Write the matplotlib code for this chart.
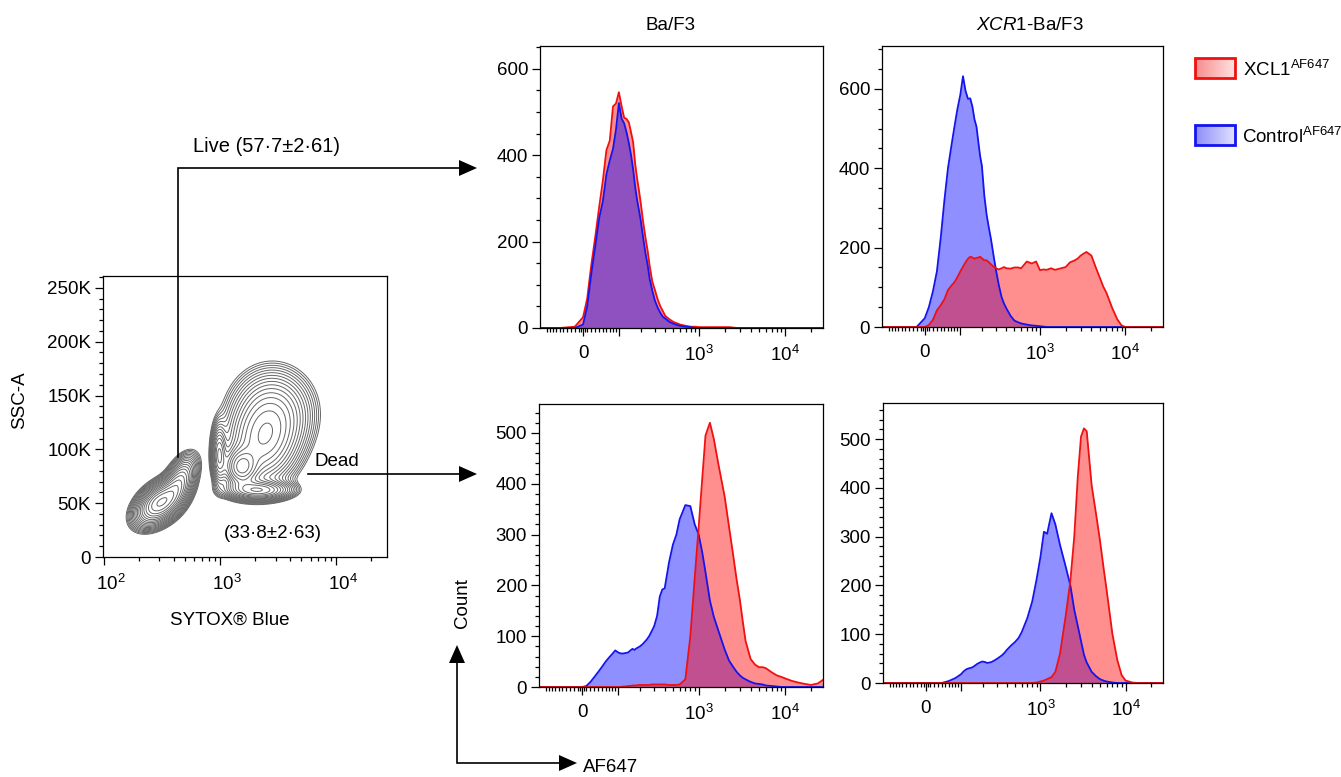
import numpy as np
import matplotlib
matplotlib.use("Agg")
import matplotlib.pyplot as plt
from matplotlib.patches import Rectangle, Polygon
from matplotlib.colors import LinearSegmentedColormap
import matplotlib.transforms as mtransforms

plt.rcParams['font.family'] = ['Liberation Sans', 'DejaVu Sans']
plt.rcParams['mathtext.fontset'] = 'custom'
plt.rcParams['mathtext.rm'] = 'Liberation Sans'
plt.rcParams['mathtext.it'] = 'Liberation Sans:italic'
plt.rcParams['mathtext.bf'] = 'Liberation Sans:bold'

# ---------------- data ----------------
# AF647 fluorescence grid (shared by all histograms)
af647 = [-120, -60, -20, 0, 10, 20, 30, 40, 50, 60, 70, 80, 90, 100, 110, 120, 130,
         140, 150, 160, 170, 180, 190, 200, 215, 230, 245, 260, 280, 300, 325, 350,
         375, 400, 450, 500, 550, 600, 700, 800, 900, 1000, 1100, 1200, 1350, 1500,
         1700, 2000, 2250, 2500, 2750, 3000, 3250, 3500, 4000, 4500, 5000, 5500,
         6000, 7000, 8000, 9000, 10000, 12000, 14000, 17000, 20000, 24000, 28000]

# Live cells, Ba/F3
live_baf3_control = [0, 0, 0, 8, 50, 125, 189, 254, 294, 356, 388, 415, 460, 521, 485,
                     474, 453, 428, 400, 367, 327, 297, 274, 251, 210, 174, 146, 113, 86,
                     64, 47, 35, 26, 22, 14, 10, 7, 5, 3, 2, 0] + [0] * 28
live_baf3_xcl1 = [0, 0, 3, 25, 68, 146, 212, 280, 342, 412, 434, 513, 520, 546, 514,
                  487, 484, 476, 453, 430, 381, 347, 320, 292, 247, 210, 179, 143, 107,
                  89, 66, 50, 39, 28, 20, 14, 11, 8, 5, 3, 3, 2, 2, 2, 2, 2, 2, 2, 2,
                  1, 0] + [0] * 18
# Live cells, XCR1-Ba/F3
live_xcr1_control = [0, 0, 0, 22, 50, 90, 140, 225, 320, 400, 455, 505, 550, 585, 632,
                     595, 575, 576, 555, 523, 505, 466, 430, 406, 330, 282, 250, 222, 180,
                     143, 105, 76, 59, 47, 28, 16, 12, 9, 6, 4, 3, 2, 1, 0] + [0] * 25
live_xcr1_xcl1 = [0, 0, 0, 0, 5, 18, 42, 55, 70, 93, 104, 113, 126, 140, 152, 163, 172,
                  177, 175, 172, 174, 175, 177, 173, 168, 168, 163, 158, 152, 148, 145,
                  148, 151, 148, 147, 150, 150, 148, 165, 160, 165, 143, 145, 144, 148,
                  144, 147, 151, 163, 167, 172, 180, 185, 189, 180, 150, 125, 102, 86,
                  48, 20, 4, 0] + [0] * 6
# Dead cells, Ba/F3
dead_baf3_control = [0, 0, 0, 0, 2, 10, 20, 30, 40, 50, 58, 65, 72, 68, 66, 66, 67, 68,
                     72, 75, 73, 76, 78, 80, 84, 89, 94, 100, 110, 120, 140, 178, 192,
                     194, 245, 280, 300, 330, 358, 356, 320, 300, 265, 226, 170, 138,
                     110, 74, 52, 40, 30, 23, 18, 15, 10, 7, 6, 5, 3, 2, 1, 0, 0] + [0] * 6
dead_baf3_xcl1 = [0] * 15 + [1, 1, 2, 2, 3, 3, 3, 4, 4, 4, 4, 4, 4, 5, 5, 5, 5, 5, 5, 4,
                             4, 4, 5, 15, 100, 215, 315, 410, 495, 520, 488, 437, 375,
                             315, 262, 212, 172, 128, 90, 55, 44, 39, 39, 37, 29, 23, 20,
                             17, 12, 9, 6, 4, 7, 15]
# Dead cells, XCR1-Ba/F3
dead_xcr1_control = [0, 0, 0, 0, 0, 0, 0, 0, 2, 4, 7, 10, 14, 18, 24, 28, 30, 31, 33, 36,
                     39, 41, 43, 44, 43, 41, 42, 43, 46, 49, 53, 57, 62, 68, 77, 84, 92,
                     104, 133, 167, 212, 258, 310, 306, 348, 325, 283, 236, 200, 150, 117,
                     86, 58, 42, 23, 14, 8, 5, 3, 1, 0, 0, 0] + [0] * 6
dead_xcr1_xcl1 = [0] * 40 + [1, 3, 5, 8, 12, 23, 60, 142, 210, 300, 423, 505, 522, 516,
                             405, 347, 293, 238, 190, 101, 47, 16, 5, 1, 0, 0, 0, 0, 0]

# Contour plot populations (log10 SYTOX Blue, SSC-A in thousands)
pop_log_sytox = [2.48, 2.65, 3.36, 2.99, 3.33, 3.18, 3.45]
pop_ssc_k = [50, 70, 105, 95, 62, 83, 135]
pop_sd_log = [0.11, 0.08, 0.17, 0.035, 0.15, 0.08, 0.19]
pop_sd_ssc = [11, 13, 22, 15, 5, 10, 22]
pop_rho = [0.45, 0.5, 0.1, 0.0, 0.0, 0.0, 0.0]
pop_weight = [1.0, 0.45, 0.45, 0.35, 0.5, 0.6, 0.3]

ssc_ticks = [0, 50000, 100000, 150000, 200000, 250000]
ssc_labels = ['0', '50K', '100K', '150K', '200K', '250K']

# ---------------- figure ----------------
W, H = 1341, 777
fig = plt.figure(figsize=(W / 100, H / 100), dpi=100)


def rect(x0, y0, x1, y1):
    return [x0 / W, 1 - y1 / H, (x1 - x0) / W, (y1 - y0) / H]


FS = 13.5
RED_L, BLUE_L = '#f01010', '#1414f0'


def fwd(x):
    return np.arcsinh(np.asarray(x, dtype=float) / 90.0)


def inv(y):
    return 90.0 * np.sinh(np.asarray(y, dtype=float))


xminor = ([-v for v in range(10, 101, 10)] + [-5, 5] + list(range(10, 100, 10)) +
          list(range(200, 1000, 100)) + list(range(2000, 10000, 1000)) + [20000])


def hist_panel(r, ctrl, xcl, ytop, ymaj, ymin_step, blue_on_top):
    ax = fig.add_axes(r)
    ax.set_xscale('function', functions=(fwd, inv))
    ax.set_xlim(-128, 27500)
    ax.set_ylim(0, ytop)
    layers = [(xcl, (1, 0, 0), RED_L), (ctrl, (0, 0, 1), BLUE_L)]
    if not blue_on_top:
        layers = layers[::-1]
    for counts, fc, lc in layers:
        ax.fill_between(af647, counts, 0, color=fc, alpha=0.44, lw=0)
        ax.plot(af647, counts, color=lc, lw=1.3)
    ax.set_xticks([0, 100, 1000, 10000])
    ax.set_xticklabels(['0', '', '$10^3$', '$10^4$'])
    ax.set_xticks(xminor, minor=True)
    ax.set_yticks(ymaj)
    ax.set_yticks(np.arange(0, ytop, ymin_step), minor=True)
    ax.tick_params(which='both', direction='out', width=0.9, labelsize=FS)
    ax.tick_params(which='major', length=5.5)
    ax.tick_params(which='minor', length=3)
    ax.tick_params(axis='x', pad=7)
    ax.tick_params(axis='y', pad=3)
    for s in ax.spines.values():
        s.set_linewidth(0.9)
    return ax


hist_panel(rect(540, 46, 823, 328), live_baf3_control, live_baf3_xcl1, 653,
           [0, 200, 400, 600], 50, True)
hist_panel(rect(882, 46, 1163, 327), live_xcr1_control, live_xcr1_xcl1, 708,
           [0, 200, 400, 600], 50, False)
hist_panel(rect(539, 404, 823, 687), dead_baf3_control, dead_baf3_xcl1, 557,
           [0, 100, 200, 300, 400, 500], 20, False)
hist_panel(rect(883, 403, 1163, 683), dead_xcr1_control, dead_xcr1_xcl1, 574,
           [0, 100, 200, 300, 400, 500], 20, False)

# ---- contour panel ----
axc = fig.add_axes(rect(103, 276, 387, 557))
axc.set_xscale('log')
axc.set_xlim(98, 27300)
axc.set_ylim(0, 261000)
u = np.linspace(1.95, 4.5, 500)
v = np.linspace(0, 265, 500)
U, V = np.meshgrid(u, v)
dens = np.zeros_like(U)
for mu, mv, su, sv, rh, wt in zip(pop_log_sytox, pop_ssc_k, pop_sd_log, pop_sd_ssc,
                                  pop_rho, pop_weight):
    a = (U - mu) / su
    b = (V - mv) / sv
    q = (a * a - 2 * rh * a * b + b * b) / (1 - rh * rh)
    dens += wt * np.exp(-0.5 * q)
levels = dens.max() * np.geomspace(0.03, 0.95, 19)
axc.contour(10 ** U, V * 1000, dens, levels=levels, colors='#666666', linewidths=0.7)
axc.set_yticks(ssc_ticks)
axc.set_yticklabels(ssc_labels)
axc.set_yticks(np.arange(0, 261000, 10000), minor=True)
axc.set_xticks([100, 1000, 10000])
axc.set_xticklabels(['$10^2$', '$10^3$', '$10^4$'])
axc.set_xticks([m * 10 ** e for e in (2, 3, 4) for m in range(2, 10) if m * 10 ** e < 27300],
               minor=True)
axc.xaxis.set_minor_formatter(matplotlib.ticker.NullFormatter())
axc.tick_params(which='both', direction='out', width=0.9, labelsize=FS)
axc.tick_params(which='major', length=5.5)
axc.tick_params(which='minor', length=3)
axc.tick_params(axis='x', pad=7)
axc.tick_params(axis='y', pad=3)
for s in axc.spines.values():
    s.set_linewidth(0.9)
off = mtransforms.ScaledTranslation(5 / 72, 0, fig.dpi_scale_trans)
for lab in axc.get_xticklabels():
    lab.set_transform(lab.get_transform() + off)

# ---- overlay for arrows, labels, legend ----
ov = fig.add_axes([0, 0, 1, 1])
ov.axis('off')


def arrow_head(tip, direction, ax):
    x, y = tip
    L, Wd = 18, 8
    if direction == 'right':
        pts = [(x - L, y - Wd), (x, y), (x - L, y + Wd)]
    else:  # up
        pts = [(x - Wd, y + L), (x, y), (x + Wd, y + L)]
    ax.add_patch(Polygon(pts, closed=True, color='k', lw=0))


ov.plot([178, 178, 460], [457, 168, 168], color='k', lw=1.2, solid_joinstyle='miter')
arrow_head((477, 168), 'right', ov)
ov.plot([308, 460], [474, 474], color='k', lw=1.2)
arrow_head((477, 474), 'right', ov)
ov.plot([457, 457, 560], [660, 763, 763], color='k', lw=1.2, solid_joinstyle='miter')
arrow_head((457, 645), 'up', ov)
arrow_head((577, 763), 'right', ov)

ov.text(193, 146, 'Live (57·7±2·61)', fontsize=14.5, ha='left', va='center')
ov.text(315, 461, 'Dead', fontsize=FS, ha='left', va='center')
ov.text(273, 533, '(33·8±2·63)', fontsize=FS, ha='center', va='center')
ov.text(463, 603, 'Count', fontsize=FS, ha='center', va='center', rotation=90)
ov.text(583, 768, 'AF647', fontsize=FS, ha='left', va='center')
ov.text(20, 400, 'SSC-A', fontsize=FS, ha='center', va='center', rotation=90)
ov.text(230, 620, 'SYTOX® Blue', fontsize=FS, ha='center', va='center')
ov.text(671, 25, 'Ba/F3', fontsize=FS, ha='center', va='center')
ov.text(1030, 25, r'$\mathit{XCR1}$-Ba/F3', fontsize=FS, ha='center', va='center')

red_cmap = LinearSegmentedColormap.from_list('r', [(0.97, 0.55, 0.55), (1, 0.88, 0.88)])
blue_cmap = LinearSegmentedColormap.from_list('b', [(0.55, 0.55, 0.98), (0.88, 0.88, 1)])
grad = np.linspace(0, 1, 64)[None, :]
ov.imshow(grad, cmap=red_cmap, extent=(1195, 1235, 78, 58), aspect='auto')
ov.imshow(grad, cmap=blue_cmap, extent=(1195, 1235, 145, 125), aspect='auto')
ov.add_patch(Rectangle((1195, 58), 40, 20, fill=False, ec=RED_L, lw=2))
ov.add_patch(Rectangle((1195, 125), 40, 20, fill=False, ec=BLUE_L, lw=2))
ov.text(1243, 70, r'XCL1$^{\mathregular{AF647}}$', fontsize=FS, ha='left', va='center')
ov.text(1242, 137, r'Control$^{\mathregular{AF647}}$', fontsize=FS, ha='left', va='center')

ov.set_xlim(0, W)
ov.set_ylim(H, 0)

fig.savefig('out.png', dpi=100)
